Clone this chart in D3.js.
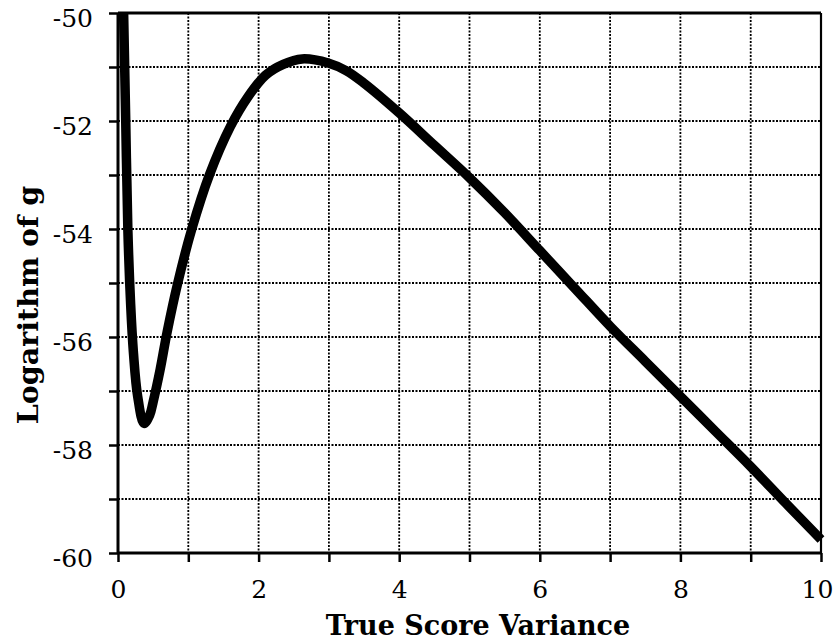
<!DOCTYPE html>
<html><head><meta charset="utf-8">
<script src="https://cdn.jsdelivr.net/npm/d3@7/dist/d3.min.js"></script>
<style>body{margin:0;background:#fff}</style>
</head><body><svg id="c" width="836" height="643"></svg>
<script>
const xVals = [0.08,0.11,0.14,0.18,0.22,0.28,0.37,0.45,0.5,0.6,0.7,0.85,1.05,1.3,1.6,1.85,2.1,2.35,2.62,3.0,3.25,3.5,4.0,4.5,5.0,5.5,6.0,6.5,7.0,7.5,8.0,8.5,9.0,9.5,10];
const yVals = [-50.0,-52.0,-54.0,-55.4,-56.3,-57.1,-57.6,-57.45,-57.2,-56.6,-55.9,-55.0,-54.0,-53.0,-52.1,-51.55,-51.15,-50.95,-50.85,-50.93,-51.07,-51.3,-51.85,-52.45,-53.05,-53.7,-54.4,-55.1,-55.8,-56.45,-57.1,-57.75,-58.4,-59.08,-59.75];
const xTickLabels = [0,2,4,6,8,10];
const yTickLabels = [-50,-52,-54,-56,-58,-60];
const xGrid = [1,2,3,4,5,6,7,8,9];
const yGrid = [-51,-52,-53,-54,-55,-56,-57,-58,-59];

const svg = d3.select('#c');
const L=118,R=821,T=13,B=553;
const x = d3.scaleLinear().domain([0,10]).range([L,R]);
const y = d3.scaleLinear().domain([-60,-50]).range([B,T]);
const font = "'DejaVu Serif','Liberation Serif',serif";

const g = svg.append('g');
// grid
g.selectAll('.gx').data(xGrid).enter().append('line')
 .attr('x1',d=>x(d)).attr('x2',d=>x(d)).attr('y1',T).attr('y2',B)
 .attr('stroke','#000').attr('stroke-width',1.8).attr('stroke-dasharray','2,1.5');
g.selectAll('.gy').data(yGrid).enter().append('line')
 .attr('y1',d=>y(d)).attr('y2',d=>y(d)).attr('x1',L).attr('x2',R)
 .attr('stroke','#000').attr('stroke-width',1.8).attr('stroke-dasharray','2,1.5');
// frame
g.append('line').attr('x1',L).attr('x2',R).attr('y1',T).attr('y2',T).attr('stroke','#000').attr('stroke-width',3);
g.append('line').attr('x1',R).attr('x2',R).attr('y1',T).attr('y2',B).attr('stroke','#000').attr('stroke-width',2.2);

// axes
const xAxis = d3.axisBottom(x).tickValues(d3.range(0,11,1)).tickSize(9).tickFormat(d=>xTickLabels.includes(d)?d:'');
const ax = svg.append('g').attr('transform',`translate(0,${B})`).call(xAxis);
ax.select('.domain').attr('stroke-width',3).attr('d',`M${L},0H${R}`);
ax.selectAll('.tick line').attr('stroke-width',2.5);
ax.selectAll('.tick text').attr('font-family',font).attr('font-size',25).attr('y',27).attr('dy','0.71em').attr('fill','#000')
  .attr('x',d=>d===10?-4:0);

const yAxis = d3.axisLeft(y).tickValues(d3.range(-60,-49,1)).tickSize(9).tickFormat(d=>yTickLabels.includes(d)?d:'');
const ay = svg.append('g').attr('transform',`translate(${L},0)`).call(yAxis);
ay.select('.domain').attr('stroke-width',3).attr('d',`M0,${T}V${B}`);
ay.selectAll('.tick line').attr('stroke-width',2.5);
ay.selectAll('.tick text').attr('font-family',font).attr('font-size',25).attr('fill','#000').attr('x',-25).attr('dy','0.55em');

// curve
const pts = xVals.map((d,i)=>[d,yVals[i]]);
svg.append('path').datum(pts)
 .attr('d',d3.line().x(d=>x(d[0])).y(d=>y(d[1])).curve(d3.curveCatmullRom.alpha(0.5)))
 .attr('fill','none').attr('stroke','#000').attr('stroke-width',9.5).attr('stroke-linejoin','round');

// titles
svg.append('text').attr('x',478).attr('y',635).attr('text-anchor','middle')
 .attr('font-family',font).attr('font-weight','bold').attr('font-size',27).text('True Score Variance');
svg.append('text').attr('transform',`translate(38,305) rotate(-90)`).attr('text-anchor','middle')
 .attr('font-family',font).attr('font-weight','bold').attr('font-size',28.5).text('Logarithm of g');
</script></body></html>
